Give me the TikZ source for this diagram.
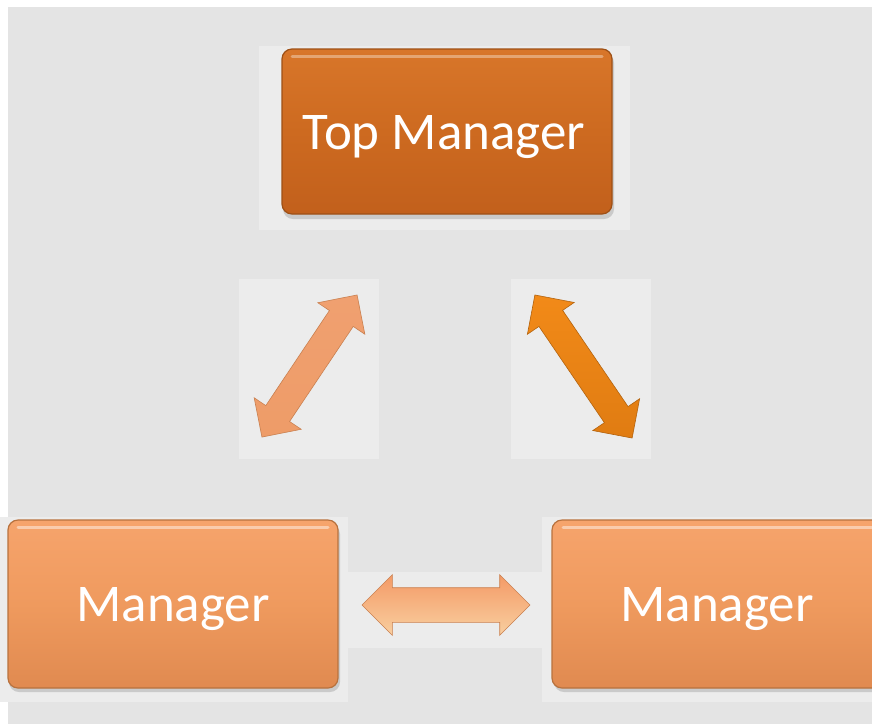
\documentclass[tikz,border=0pt]{standalone}
\usepackage{fontspec}
\setmainfont{Carlito}
\usetikzlibrary{shapes.arrows}
\definecolor{bggray}{HTML}{E4E4E4}
\definecolor{patch}{HTML}{ECECEC}
\definecolor{topA}{HTML}{D8762A}
\definecolor{topB}{HTML}{CD6A20}
\definecolor{topC}{HTML}{C2601C}
\definecolor{topEdge}{HTML}{9E5016}
\definecolor{mgrA}{HTML}{F6A46C}
\definecolor{mgrB}{HTML}{EF9A5E}
\definecolor{mgrC}{HTML}{E08A50}
\definecolor{mgrEdge}{HTML}{B8723E}
\definecolor{peachA}{HTML}{F0A070}
\definecolor{peachB}{HTML}{FDDDB6}
\definecolor{peachC}{HTML}{EE9C68}
\definecolor{orgA}{HTML}{F28A18}
\definecolor{orgB}{HTML}{FBA338}
\definecolor{orgC}{HTML}{E07C12}
\definecolor{horA}{HTML}{F49A66}
\definecolor{horB}{HTML}{FCA672}
\definecolor{horC}{HTML}{F8CFA0}
\definecolor{arrEdge}{HTML}{C98050}
\tikzset{
  bgpatch/.style={fill=patch, draw=none},
  boxshadow/.style={fill=black!45, opacity=0.35, rounded corners=10pt},
  topbox/.style={rectangle, rounded corners=10pt, draw=topEdge, line width=1.2pt,
    top color=topA, bottom color=topC, middle color=topB,
    minimum width=330pt, minimum height=165pt, inner sep=0pt},
  mgrbox/.style={rectangle, rounded corners=10pt, draw=mgrEdge, line width=1.2pt,
    top color=mgrA, bottom color=mgrC, middle color=mgrB,
    minimum width=330pt, minimum height=168pt, inner sep=0pt},
  lbl/.style={text=white, font=\fontsize{53}{60}\selectfont, anchor=base, inner sep=0pt},
  dblarrow/.style={double arrow, inner xsep=0pt, inner ysep=14pt,
    double arrow head extend=14pt, draw=arrEdge, line width=0.6pt},
  peacharrow/.style={dblarrow, top color=peachA, middle color=peachB, bottom color=peachC},
  orangearrow/.style={dblarrow, top color=orgA, middle color=orgB, bottom color=orgC, draw=orgC!80!black},
  horarrow/.style={dblarrow, inner ysep=17pt, double arrow head extend=13pt,
    top color=horA, middle color=horB, bottom color=horC},
}
\begin{document}
\begin{tikzpicture}[x=1pt,y=-1pt]
\useasboundingbox (0,0) rectangle (872,724);
\clip (0,0) rectangle (872,724);
\fill[white] (0,0) rectangle (872,724);
\fill[bggray] (8,7) rectangle (872,724);
% lighter patches
\fill[bgpatch] (259,46) rectangle (630,230);
\fill[bgpatch] (239,279) rectangle (379,459);
\fill[bgpatch] (511,279) rectangle (651,459);
\fill[bgpatch] (0,517) rectangle (348,702);
\fill[bgpatch] (542,517) rectangle (872,702);
\fill[bgpatch] (348,572) rectangle (542,648);
% shadows
\fill[boxshadow] (283,53) rectangle (614,219);
\fill[boxshadow] (9,524) rectangle (340,692);
\fill[boxshadow] (554,524) rectangle (885,692);
% boxes
\node[topbox] (top) at (447,131.5) {};
\node[mgrbox] (mgrL) at (173,604) {};
\node[mgrbox] (mgrR) at (717,604) {};
% top highlights
\draw[white, opacity=0.35, line width=3pt, line cap=round] (292,56) -- (602,56);
\draw[white, opacity=0.45, line width=3pt, line cap=round] (18,527) -- (328,527);
\draw[white, opacity=0.45, line width=3pt, line cap=round] (563,527) -- (872,527);
% labels
\node[lbl] (topText) at (444,149) {Top Manager};
\node[lbl] (mgrLText) at (173,621) {Manager};
\node[lbl] (mgrRText) at (717,621) {Manager};
% arrows
\node[peacharrow, rotate=56.2, minimum height=171pt] (arrL) at (309.5,366) {};
\node[orangearrow, rotate=-55.8, minimum height=173pt] (arrR) at (583.5,366.5) {};
\node[horarrow, minimum height=168pt] (arrH) at (446,605) {};
\end{tikzpicture}
\end{document}
